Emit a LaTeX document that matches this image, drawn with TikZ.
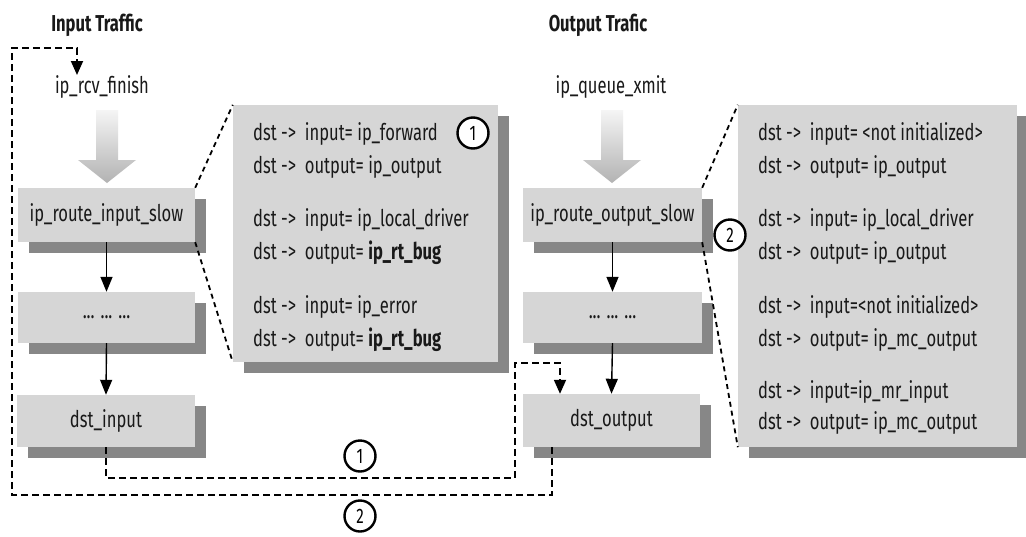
\documentclass[tikz,border=0pt]{standalone}
\usepackage{fontspec}
\setmainfont{Fira Sans}[FakeStretch=0.72]
\usetikzlibrary{arrows.meta,shadows,calc}
\definecolor{boxgray}{RGB}{214,214,214}
\definecolor{shadowgray}{RGB}{135,135,135}
\definecolor{txt}{RGB}{25,25,25}
\begin{document}
\begin{tikzpicture}[x=1pt,y=-1pt,
  shad/.style={drop shadow={shadow xshift=11pt,shadow yshift=-11pt,fill=shadowgray,opacity=1}},
  box/.style={fill=boxgray, inner sep=0pt, text=txt, font=\fontsize{23}{26}\selectfont, shad},
  panel/.style={fill=boxgray, inner sep=0pt, shad},
  ptext/.style={anchor=west, inner sep=0pt, text=txt, font=\fontsize{23}{26}\selectfont},
  label/.style={inner sep=0pt, text=txt, font=\fontsize{23}{26}\selectfont},
  ttl/.style={inner sep=0pt, text=txt, font=\bfseries\fontsize{23}{26}\selectfont},
  circ/.style={circle, draw=black, line width=2.4pt, fill=white, minimum size=31pt, inner sep=0pt, font=\fontsize{21}{21}\selectfont},
  sarr/.style={line width=1.4pt, -{Triangle[length=15pt,width=12pt]}},
  dpath/.style={line width=1.8pt, dash pattern=on 7pt off 4pt},
  darr/.style={dpath, -{Triangle[length=14pt,width=12pt]}},
  pdash/.style={line width=1.8pt, dash pattern=on 5pt off 4pt},
  fat/.style={top color=black!4, bottom color=black!30}
]
\useasboundingbox[fill=white] (0,0) rectangle (1026,536);

% titles and entry functions
\node[ttl] (tin) at (97,25) {Input Traffic};
\node[ttl] (tout) at (598,25) {Output Trafic};
\node[label] (rcv) at (102,87) {ip\_rcv\_finish};
\node[label] (xmit) at (611,87) {ip\_queue\_xmit};

% panels
\node[panel, minimum width=265pt, minimum height=257pt] (lpanel) at (365.5,233.5) {};
\node[panel, minimum width=279pt, minimum height=342pt] (rpanel) at (877.5,276) {};

% boxes
\node[box, minimum width=177pt, minimum height=54pt] (ris) at (106.5,215) {ip\_route\_input\_slow};
\node[box, minimum width=177pt, minimum height=51pt] (rdots) at (106.5,317.5) {... ... ...};
\node[box, minimum width=178pt, minimum height=52pt] (din) at (106,421) {dst\_input};
\node[box, minimum width=179pt, minimum height=54pt] (ros) at (612.5,215) {ip\_route\_output\_slow};
\node[box, minimum width=179pt, minimum height=51pt] (odots) at (612.5,317.5) {... ... ...};
\node[box, minimum width=177pt, minimum height=53pt] (dout) at (611.5,420.5) {dst\_output};

% fat grey arrows
\shade[fat] (96,110) -- (118,110) -- (118,160) -- (136,160) -- (107,183) -- (78,160) -- (96,160) -- cycle;
\shade[fat] (601,110) -- (623,110) -- (623,160) -- (641,160) -- (612,183) -- (583,160) -- (601,160) -- cycle;

% left panel text
\node[ptext] (l1) at (253,134) {dst -> \ input= ip\_forward};
\node[ptext] (l2) at (253,167) {dst -> \ output= ip\_output};
\node[ptext] (l3) at (253,220) {dst -> \ input= ip\_local\_driver};
\node[ptext] (l4) at (253,253) {dst -> \ output= \textbf{ip\_rt\_bug}};
\node[ptext] (l5) at (253,307) {dst -> \ input= ip\_error};
\node[ptext] (l6) at (253,340) {dst -> \ output= \textbf{ip\_rt\_bug}};

% right panel text
\node[ptext] (r1) at (758,134) {dst -> \ input= <not initialized>};
\node[ptext] (r2) at (758,167) {dst -> \ output= ip\_output};
\node[ptext] (r3) at (758,220) {dst -> \ input= ip\_local\_driver};
\node[ptext] (r4) at (758,253) {dst -> \ output= ip\_output};
\node[ptext] (r5) at (758,307) {dst -> \ input=<not initialized>};
\node[ptext] (r6) at (758,340) {dst -> \ output= ip\_mc\_output};
\node[ptext] (r7) at (758,392) {dst -> \ input=ip\_mr\_input};
\node[ptext] (r8) at (758,423) {dst -> \ output= ip\_mc\_output};

% box-to-panel zoom lines
\draw[pdash] (ris.north east) -- (lpanel.north west);
\draw[pdash] (ris.south east) -- (lpanel.south west);
\draw[pdash] (ros.north east) -- (rpanel.north west);
\draw[pdash] (ros.south east) -- (rpanel.south west);

% solid arrows
\draw[sarr] (ris.south) -- (rdots.north);
\draw[sarr] (rdots.south) -- (din.north);
\draw[sarr] (ros.south) -- (odots.north);
\draw[sarr] (odots.south) -- (dout.north);

% path 1
\coordinate (p1a) at (106,478);
\coordinate (p1b) at (515,478);
\coordinate (p1c) at (515,363);
\coordinate (p1d) at (560,363);
\draw[darr] (din.south) -- (p1a) -- (p1b) -- (p1c) -- (p1d) -- (p1d |- dout.north);

% path 2
\coordinate (p2s) at (552,447);
\coordinate (p2a) at (552,495);
\coordinate (p2b) at (12,495);
\coordinate (p2c) at (12,48);
\coordinate (p2d) at (77,48);
\coordinate (p2e) at (77,75);
\draw[darr] (p2s) -- (p2a) -- (p2b) -- (p2c) -- (p2d) -- (p2e);

% circled numbers
\node[circ] (c1a) at (473,133) {1};
\node[circ] (c2a) at (730,235) {2};
\node[circ] (c1b) at (360,456) {1};
\node[circ] (c2b) at (360,516) {2};
\end{tikzpicture}
\end{document}
